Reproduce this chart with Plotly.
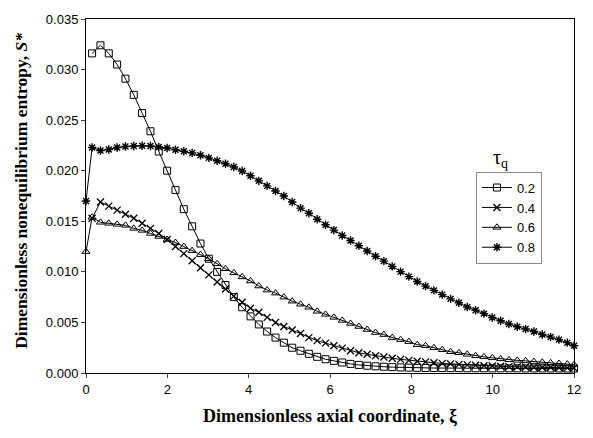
import plotly.graph_objects as go

# Axial coordinate grid (xi)
XI = [0.15, 0.355, 0.56, 0.765, 0.97, 1.175, 1.38, 1.585, 1.79, 1.995,
      2.2, 2.405, 2.61, 2.815, 3.02, 3.225, 3.43, 3.635, 3.84, 4.045,
      4.25, 4.455, 4.66, 4.865, 5.07, 5.275, 5.48, 5.685, 5.89, 6.095,
      6.3, 6.505, 6.71, 6.915, 7.12, 7.325, 7.53, 7.735, 7.94, 8.145,
      8.35, 8.555, 8.76, 8.965, 9.17, 9.375, 9.58, 9.785, 9.99, 10.195,
      10.4, 10.605, 10.81, 11.015, 11.22, 11.425, 11.63, 11.835, 12.0]
XI_START = [0.0]

S_02 = [0.0316, 0.0324, 0.0316, 0.0305, 0.0291, 0.0275, 0.0257, 0.0239, 0.0219, 0.0200,
        0.0181, 0.0162, 0.0145, 0.0128, 0.0113, 0.0100, 0.0087, 0.0075, 0.0065, 0.0056,
        0.0048, 0.0041, 0.0035, 0.0030, 0.0025, 0.0022, 0.0019, 0.0016, 0.00136, 0.0012,
        0.00104, 0.0009, 0.0008, 0.00072, 0.00066, 0.00062, 0.00058, 0.00055, 0.00053, 0.00051,
        0.0005, 0.00049, 0.00049, 0.00048, 0.00048, 0.00047, 0.00047, 0.00047, 0.00046, 0.00046,
        0.00046, 0.00046, 0.00045, 0.00045, 0.00045, 0.00045, 0.00045, 0.00044, 0.00044]

S_04 = [0.0153, 0.0169, 0.0165, 0.0161, 0.0157, 0.0153, 0.0148, 0.0143, 0.0138, 0.0132,
        0.0125, 0.0118, 0.0111, 0.0104, 0.0097, 0.0090, 0.0083, 0.0076, 0.0070, 0.0064,
        0.0060, 0.0055, 0.0050, 0.0046, 0.00425, 0.0039, 0.0035, 0.0032, 0.00295, 0.0027,
        0.00246, 0.0022, 0.0020, 0.00185, 0.0017, 0.00158, 0.00145, 0.00135, 0.00125, 0.00117,
        0.0011, 0.00102, 0.00095, 0.0009, 0.00085, 0.0008, 0.00076, 0.00072, 0.00069, 0.00066,
        0.00063, 0.00061, 0.00059, 0.00057, 0.00055, 0.00054, 0.00052, 0.00051, 0.0005]

S_06_START = [0.0120]
S_06 = [0.0154, 0.0149, 0.0148, 0.0147, 0.0146, 0.0143, 0.0141, 0.0138, 0.0135, 0.0132,
        0.0129, 0.0125, 0.0121, 0.0117, 0.0113, 0.0108, 0.0103, 0.0099, 0.0095, 0.0091,
        0.0086, 0.0082, 0.0079, 0.0075, 0.0071, 0.0068, 0.0065, 0.0061, 0.0058, 0.0055,
        0.0052, 0.0049, 0.0046, 0.0043, 0.0040, 0.0038, 0.0035, 0.0033, 0.0031, 0.0028,
        0.0027, 0.0025, 0.0023, 0.0021, 0.0020, 0.00185, 0.0017, 0.0016, 0.0015, 0.0014,
        0.0013, 0.00125, 0.0012, 0.00113, 0.00107, 0.001, 0.00094, 0.00088, 0.00082]

S_08_START = [0.0170]
S_08 = [0.0223, 0.0220, 0.0221, 0.0223, 0.0224, 0.02244, 0.02247, 0.02244, 0.02234, 0.02225,
        0.02208, 0.02192, 0.02176, 0.02153, 0.02127, 0.02098, 0.02069, 0.02036, 0.01997, 0.0195,
        0.0190, 0.0185, 0.0180, 0.0175, 0.0169, 0.0163, 0.0158, 0.0152, 0.01466, 0.01413,
        0.01359, 0.0131, 0.01258, 0.01206, 0.01155, 0.01106, 0.01054, 0.01002, 0.00953, 0.00905,
        0.00859, 0.00817, 0.00775, 0.00733, 0.00694, 0.00652, 0.0062, 0.00587, 0.00548, 0.00516,
        0.00484, 0.00457, 0.00435, 0.0041, 0.0038, 0.00355, 0.0033, 0.0030, 0.0027]

LABELS = ["0.2", "0.4", "0.6", "0.8"]
X_TICKS = [0, 2, 4, 6, 8, 10, 12]
Y_TICKS = [0.0, 0.005, 0.010, 0.015, 0.020, 0.025, 0.030, 0.035]

series = [
    (XI, S_02, "square-open", 7, 1),
    (XI, S_04, "x-thin-open", 7, 1.3),
    (XI_START + XI, S_06_START + S_06, "triangle-up-open", 7, 1),
    (XI_START + XI, S_08_START + S_08, "asterisk-open", 7, 1.4),
]

fig = go.Figure()
for (xs, ys, sym, sz, lw), name in zip(series, LABELS):
    fig.add_trace(go.Scatter(
        x=xs, y=ys, name=name, mode="lines+markers",
        line=dict(color="black", width=1),
        marker=dict(symbol=sym, size=sz, color="black",
                    line=dict(color="black", width=lw)),
        cliponaxis=False,
    ))

fig.update_layout(
    width=593, height=438,
    margin=dict(l=86, r=18, t=13, b=65),
    paper_bgcolor="white", plot_bgcolor="white",
    font=dict(family="Liberation Sans, Arial", size=13, color="black"),
    showlegend=True,
    legend=dict(x=0.799, y=0.569, xanchor="left", yanchor="top",
                bgcolor="white", bordercolor="#888888", borderwidth=1,
                font=dict(size=13, family="Liberation Sans, Arial"),
                tracegroupgap=2, itemwidth=30),
)
fig.update_xaxes(range=[0, 12], tickvals=X_TICKS, ticks="outside", ticklen=4,
                 showline=True, linecolor="black", linewidth=1, mirror=True,
                 showgrid=False, zeroline=False,
                 tickfont=dict(size=13, family="Liberation Sans, Arial"))
fig.update_yaxes(range=[0, 0.035], tickvals=Y_TICKS, tickformat=".3f",
                 ticks="outside", ticklen=4,
                 showline=True, linecolor="black", linewidth=1, mirror=True,
                 showgrid=False, zeroline=False,
                 tickfont=dict(size=13, family="Liberation Sans, Arial"))

fig.add_annotation(text="<b>Dimensionless axial coordinate, ξ</b>",
                   xref="paper", yref="paper", x=0.5, y=-0.122,
                   xanchor="center", yanchor="middle", showarrow=False,
                   font=dict(family="Liberation Serif, Times New Roman", size=18))
fig.add_annotation(text="<b>Dimensionless nonequilibrium entropy, <i>S*</i></b>",
                   xref="paper", yref="paper", x=-0.133, y=0.515, textangle=-90,
                   xanchor="center", yanchor="middle", showarrow=False,
                   font=dict(family="Liberation Serif, Times New Roman", size=17.5))
fig.add_annotation(text="τ<sub>q</sub>",
                   xref="paper", yref="paper", x=0.85, y=0.606,
                   xanchor="center", yanchor="middle", showarrow=False,
                   font=dict(family="Liberation Serif, Times New Roman", size=20))

fig.write_html("out.html")
